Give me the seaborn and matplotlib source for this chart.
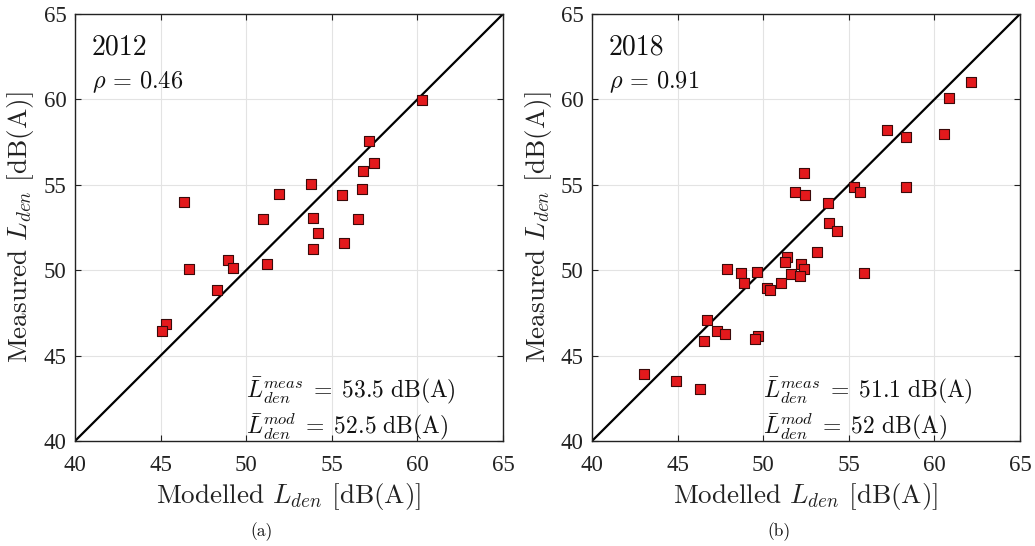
import matplotlib
matplotlib.use("Agg")
import matplotlib.pyplot as plt
import seaborn as sns
import pandas as pd
import numpy as np

# ---- data ----
mod_2012 = [57.17, 57.47, 56.84, 56.76, 53.80, 55.60, 51.93, 46.38, 51.00, 53.90, 56.53,
            54.21, 55.70, 53.92, 51.21, 48.95, 49.25, 46.66, 48.29, 45.33, 45.08, 60.25]
meas_2012 = [57.58, 56.29, 55.79, 54.77, 55.06, 54.39, 54.48, 53.98, 52.98, 53.06, 52.98,
             52.16, 51.57, 51.26, 50.36, 50.58, 50.15, 50.05, 48.84, 46.85, 46.46, 59.96]

mod_2018 = [62.14, 60.84, 57.25, 58.36, 60.54, 52.38, 51.84, 52.42, 55.30, 55.65, 58.32,
            53.80, 53.83, 54.29, 53.14, 51.39, 51.26, 52.23, 52.38, 47.90, 48.72, 49.66,
            55.87, 51.62, 52.13, 48.90, 51.04, 50.20, 50.40, 46.72, 47.30, 47.77, 49.71,
            49.50, 46.54, 43.04, 44.91, 46.29]
meas_2018 = [61.00, 60.08, 58.19, 57.80, 57.99, 55.67, 54.58, 54.39, 54.87, 54.58, 54.87,
             53.95, 52.76, 52.28, 51.07, 50.77, 50.46, 50.36, 50.07, 50.05, 49.85, 49.88,
             49.85, 49.78, 49.66, 49.27, 49.27, 48.96, 48.86, 47.07, 46.46, 46.26, 46.15,
             45.95, 45.85, 43.94, 43.53, 43.03]

years = ["2012", "2018"]
rhos = ["0.46", "0.91"]
mean_meas = ["53.5", "51.1"]
mean_mod = ["52.5", "52"]
captions = ["(a)", "(b)"]
axis_lim = [40, 65]
ticks = [40, 45, 50, 55, 60, 65]

# ---- style ----
sns.set_style("white")
plt.rcParams["font.family"] = ["cmr10", "DejaVu Serif"]
plt.rcParams["mathtext.fontset"] = "cm"
plt.rcParams["axes.formatter.use_mathtext"] = True

fig = plt.figure(figsize=(10.35, 5.46), dpi=100)
W, H = 1035, 546
lefts = [75, 592]
ax_w, top, bottom = 428, 14, 441
ax_h = bottom - top

datasets = [(mod_2012, meas_2012), (mod_2018, meas_2018)]
for i, (mx, my) in enumerate(datasets):
    ax = fig.add_axes([lefts[i] / W, 1 - bottom / H, ax_w / W, ax_h / H])
    df = pd.DataFrame({"mod": mx, "meas": my})
    ax.grid(True, color="#e3e3e3", linewidth=0.8, zorder=0)
    sns.lineplot(x=axis_lim, y=axis_lim, ax=ax, color="black", linewidth=1.6, zorder=2)
    sns.scatterplot(data=df, x="mod", y="meas", ax=ax, marker="s", s=62,
                    color="#e3191c", edgecolor="#3a0a0a", linewidth=0.8, zorder=3)
    ax.set_xlim(axis_lim)
    ax.set_ylim(axis_lim)
    ax.set_xticks(ticks)
    ax.set_yticks(ticks)
    ax.set_xticklabels([str(t) for t in ticks], fontfamily="Liberation Serif", fontsize=16.5)
    ax.set_yticklabels([str(t) for t in ticks], fontfamily="Liberation Serif", fontsize=16.5)
    ax.tick_params(direction="in", length=4, width=0.8, top=True, right=True,
                   bottom=True, left=True, colors="#222222")
    ax.tick_params(axis="x", pad=10)
    ax.tick_params(axis="y", pad=6)
    for sp in ax.spines.values():
        sp.set_color("#222222")
        sp.set_linewidth(1.0)
    ax.set_xlabel(r"Modelled $L_{den}$ [dB(A)]", fontsize=19.5, color="#222222", va="baseline")
    ax.xaxis.set_label_coords(0.5, -(503 - bottom) / ax_h)
    ax.set_ylabel(r"Measured $L_{den}$ [dB(A)]", fontsize=19.5, color="#222222", va="center")
    ax.yaxis.set_label_coords(-54 / ax_w, 0.5)
    ax.text(0.04, 0.904, years[i], transform=ax.transAxes, fontsize=20,
            va="baseline", ha="left", color="#111111")
    ax.text(0.04, 0.827, r"$\rho\,=\," + rhos[i] + "$", transform=ax.transAxes, fontsize=17.5,
            va="baseline", ha="left", color="#111111")
    ax.text(0.40, 0.103, r"$\bar{L}_{den}^{meas}\;=\;" + mean_meas[i] + r"\ \mathrm{dB(A)}$",
            transform=ax.transAxes, fontsize=17, va="baseline", ha="left", color="#111111")
    ax.text(0.40, 0.016, r"$\bar{L}_{den}^{mod}\;=\;" + mean_mod[i] + r"\ \mathrm{dB(A)}$",
            transform=ax.transAxes, fontsize=17, va="baseline", ha="left", color="#111111")
    fig.text((lefts[i] + ax_w / 2 - 27) / W, 1 - 532 / H, captions[i], fontsize=12.5,
             ha="center", va="center", color="#111111")

fig.savefig("out.png", dpi=100)
